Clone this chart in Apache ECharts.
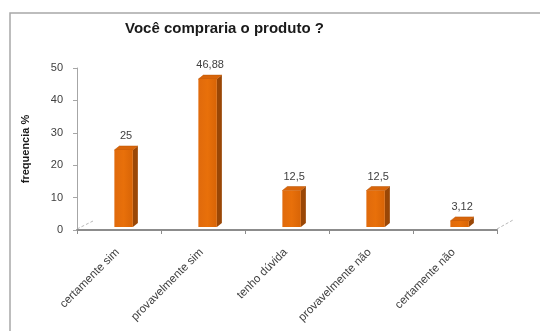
<!DOCTYPE html>
<html><head><meta charset="utf-8">
<script src="https://cdn.jsdelivr.net/npm/echarts@6/dist/echarts.min.js"></script>
<style>html,body{margin:0;padding:0;background:#fff}#c{width:540px;height:331px}</style>
</head><body><div id="c"></div>
<script>
const titleText = 'Você compraria o produto ?';
const yName = 'frequencia %';
const categories = ['certamente sim', 'provavelmente sim', 'tenho dúvida', 'provavelmente não', 'certamente não'];
const values = [25, 46.88, 12.5, 12.5, 3.12];
const yTicks = [0, 10, 20, 30, 40, 50];

const chart = echarts.init(document.getElementById('c'), null, {renderer: 'canvas'});
const FONT = 'Liberation Sans, Arial, sans-serif';

function renderItem(params, api) {
  const v = api.value(1);
  const top = api.coord([api.value(0), v]);
  const base = api.coord([api.value(0), 0]);
  const bw = api.size([1, 0])[0];
  const w = bw * 0.22;
  const cx = top[0] + bw * 0.055;
  const d = 5, dy = 4;
  const yT = top[1] + 1;
  const yB = base[1] - 3;
  const l = cx - w / 2, r = cx + w / 2;
  const label = String(v).replace('.', ',');
  return {
    type: 'group',
    children: [
      {type: 'polygon', shape: {points: [[r, yT], [r + d, yT - dy], [r + d, yB - dy], [r, yB]]},
        style: {fill: '#9a4706'}},
      {type: 'polygon', shape: {points: [[l, yT], [l + d, yT - dy], [r + d, yT - dy], [r, yT]]},
        style: {fill: '#d8650a', stroke: '#b85507', lineWidth: 0.5}},
      {type: 'rect', shape: {x: l, y: yT, width: w, height: yB - yT},
        style: {fill: new echarts.graphic.LinearGradient(0, 0, 1, 0, [
          {offset: 0, color: '#e06a0c'}, {offset: 0.5, color: '#e8700a'}, {offset: 1, color: '#d86406'}])}},
      {type: 'text', x: cx + d / 2, y: yT - dy - 10,
        style: {text: label, fill: '#404040', font: '11px ' + FONT, align: 'center', verticalAlign: 'middle'}}
    ]
  };
}

chart.setOption({
  animation: false,
  title: {text: titleText, left: 120, top: 16,
    textStyle: {fontSize: 15, fontWeight: 'bold', color: '#1a1a1a', fontFamily: FONT}},
  grid: {left: 77, right: 43, top: 68, bottom: 101, outerBoundsMode: 'none', containLabel: false},
  xAxis: {
    type: 'category', data: categories, boundaryGap: true,
    axisLine: {lineStyle: {color: '#8c8c8c', width: 2}},
    axisTick: {show: true, length: 4, alignWithLabel: false, lineStyle: {color: '#8c8c8c'}},
    axisLabel: {rotate: 45, fontSize: 11.5, color: '#404040', fontFamily: FONT, margin: 19, interval: 0,
      padding: [0, 2, 0, 0]}
  },
  yAxis: {
    type: 'value', min: 0, max: 50, interval: 10,
    name: yName, nameLocation: 'middle', nameGap: 46, nameRotate: 90,
    nameTextStyle: {fontSize: 11, fontWeight: 'bold', color: '#1a1a1a', fontFamily: FONT},
    axisLine: {show: true, lineStyle: {color: '#a6a6a6'}},
    axisTick: {show: true, length: 4, lineStyle: {color: '#a6a6a6'}},
    splitLine: {show: false},
    axisLabel: {fontSize: 11, color: '#404040', fontFamily: FONT, margin: 14,
      formatter: v => yTicks.includes(v) ? String(v) : ''}
  },
  series: [{
    type: 'custom', renderItem: renderItem,
    data: values.map((v, i) => [i, v]),
    encode: {x: 0, y: 1}
  }]
});

const p0 = chart.convertToPixel({gridIndex: 0}, [0, 0]);
const bw = chart.convertToPixel({gridIndex: 0}, [1, 0])[0] - p0[0];
const xl = p0[0] - bw / 2, xr = p0[0] + bw * (categories.length - 0.5), y0 = p0[1];
chart.setOption({
  graphic: [
    {type: 'rect', shape: {x: 10, y: 13, width: 560, height: 360},
      style: {fill: null, stroke: '#a8a8a8', lineWidth: 1.5}, z: 100},
    {type: 'line', shape: {x1: xl, y1: y0 - 1, x2: xl + 16, y2: y0 - 9},
      style: {stroke: '#b8b8b8', lineWidth: 1, lineDash: [3, 2]}},
    {type: 'line', shape: {x1: xr, y1: y0 - 1, x2: xr + 16, y2: y0 - 10},
      style: {stroke: '#b8b8b8', lineWidth: 1, lineDash: [3, 2]}}
  ]
});
</script></body></html>
